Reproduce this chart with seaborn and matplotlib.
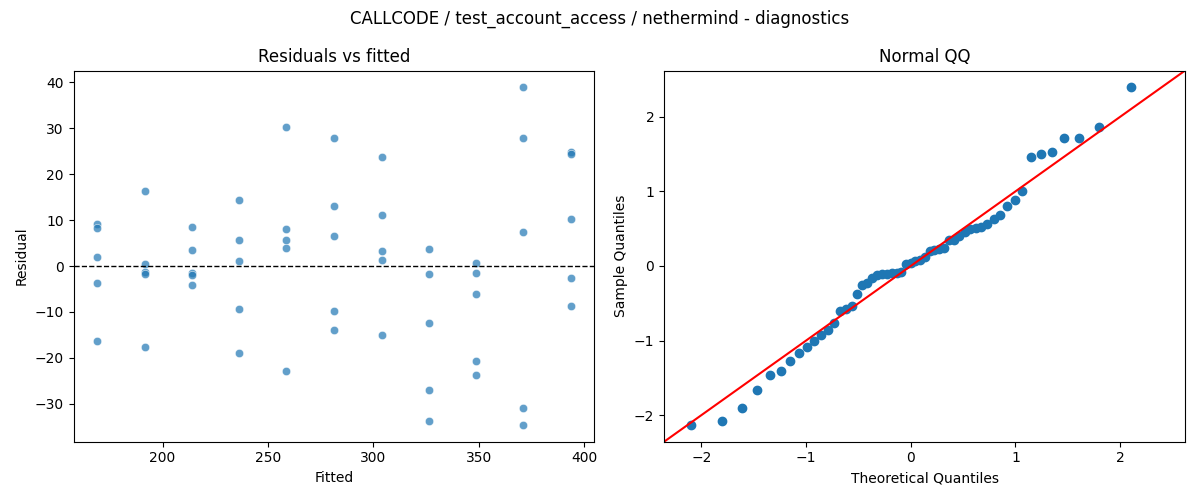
import numpy as np
import pandas as pd
import matplotlib
matplotlib.use("Agg")
import matplotlib.pyplot as plt
import seaborn as sns
from statistics import NormalDist

# ---- data ----
fitted_levels = [169.0, 191.6, 213.8, 236.4, 258.6, 281.3, 304.0, 326.4, 348.7, 371.0, 393.6]
res_169 = [9.2, 8.3, 2.0, -3.8, -16.3]
res_192 = [16.4, 0.5, -1.4, -1.7, -17.6]
res_214 = [8.5, 3.5, -1.5, -2.0, -4.1]
res_236 = [14.4, 5.7, 1.1, -9.3, -18.9]
res_259 = [30.2, 8.0, 5.65, 3.9, -22.8]
res_281 = [27.8, 13.0, 6.5, -9.7, -13.9]
res_304 = [23.7, 11.1, 3.3, 1.3, -15.0]
res_326 = [3.7, -1.7, -12.4, -27.0, -33.7]
res_349 = [0.65, -1.5, -6.1, -20.7, -23.7]
res_371 = [38.9, 28.0, 7.4, -30.9, -34.6]
res_394 = [24.8, 24.4, 10.2, -2.6, -8.7]
residual_groups = [res_169, res_192, res_214, res_236, res_259, res_281,
                   res_304, res_326, res_349, res_371, res_394]

title = "CALLCODE / test_account_access / nethermind - diagnostics"

rows = []
for f, grp in zip(fitted_levels, residual_groups):
    for r in grp:
        rows.append({"Fitted": f, "Residual": r})
df = pd.DataFrame(rows)

# QQ: standardized residuals vs normal plotting positions i/(n+1)
resid = df["Residual"].to_numpy()
n = len(resid)
z = (resid - resid.mean()) / resid.std()
sample_q = np.sort(z)
nd = NormalDist()
theo_q = np.array([nd.inv_cdf(i / (n + 1)) for i in range(1, n + 1)])
qq = pd.DataFrame({"Theoretical Quantiles": theo_q, "Sample Quantiles": sample_q})

fig, axes = plt.subplots(1, 2, figsize=(12, 5), dpi=100)

ax = axes[0]
sns.scatterplot(data=df, x="Fitted", y="Residual", ax=ax, alpha=0.7, s=36)
ax.axhline(0, color="black", linestyle="--", linewidth=1)
ax.set_title("Residuals vs fitted")

ax = axes[1]
sns.scatterplot(data=qq, x="Theoretical Quantiles", y="Sample Quantiles", ax=ax,
                color="#1f77b4", edgecolor="#1f77b4", linewidth=1, s=36)
xl = ax.get_xlim()
yl = ax.get_ylim()
lo = min(xl[0], yl[0])
hi = max(xl[1], yl[1])
ax.plot([lo, hi], [lo, hi], color="red", linewidth=1.5)
ax.set_xlim(lo, hi)
ax.set_ylim(lo, hi)
ax.set_title("Normal QQ")

fig.suptitle(title)
fig.tight_layout()
fig.savefig("out.png", dpi=100)
